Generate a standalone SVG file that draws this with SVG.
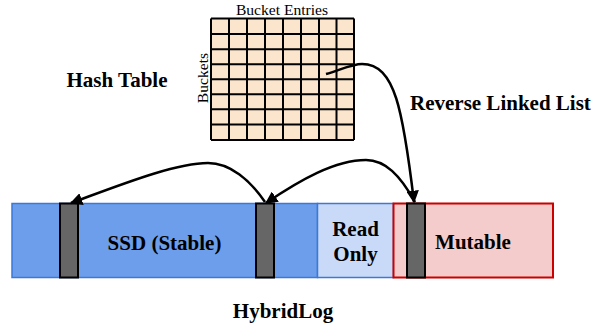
<svg xmlns="http://www.w3.org/2000/svg" width="595" height="323" viewBox="0 0 595 323">
<style>
.lbl{font-family:"Liberation Serif","Times New Roman",serif;font-weight:bold;font-size:21px;fill:#000}
.sm{font-family:"Liberation Serif","Times New Roman",serif;font-size:15.6px;fill:#000}
.slot{fill:#666666;stroke:#000;stroke-width:2}
.grid{stroke:#000;stroke-width:2;fill:none}
.conn{fill:none;stroke:#000;stroke-width:2.5}
</style>
<defs>
<marker id="ah" viewBox="0 0 10 10" refX="9" refY="5" markerWidth="5" markerHeight="5" orient="auto" markerUnits="strokeWidth">
<path d="M0,0 L10,5 L0,10 z" fill="#000"/>
</marker>
</defs>
<rect width="595" height="323" fill="#fff"/>
<g id="hash-table-label"><text class="lbl" x="66.5" y="86.5">Hash Table</text></g>
<g id="hash-table">
<rect x="211" y="18.5" width="143" height="121.5" fill="#fce5cd"/>
<path class="grid" d="M211,18.5V140M229,18.5V140M247,18.5V140M265,18.5V140M283,18.5V140M301,18.5V140M319,18.5V140M336.5,18.5V140M354,18.5V140M211,18.5H354M211,34H354M211,49.3H354M211,64.3H354M211,79.3H354M211,94.3H354M211,109.3H354M211,124.5H354M211,140H354"/>
<text class="sm" x="282" y="15" text-anchor="middle">Bucket Entries</text>
<text class="sm" transform="translate(207.5,78) rotate(-90)" text-anchor="middle">Buckets</text>
</g>
<g id="reverse-linked-list-label"><text class="lbl" x="410" y="110">Reverse Linked List</text></g>
<g id="hybridlog">
<rect id="ssd" x="12" y="203.5" width="305.5" height="74" fill="#6d9eeb" stroke="#3c78d8" stroke-width="1.5"/>
<rect id="read-only" x="317.5" y="203.5" width="76" height="74" fill="#c9daf8" stroke="#3c78d8" stroke-width="1.5"/>
<rect id="mutable" x="393.5" y="203.5" width="159.5" height="74" fill="#f4cccc" stroke="#cc0000" stroke-width="2"/>
<rect class="slot" x="60" y="203.5" width="18" height="74"/>
<rect class="slot" x="256" y="203.5" width="18" height="74"/>
<rect class="slot" x="407" y="203.5" width="18" height="74"/>
<text class="lbl" x="164.5" y="249.5" text-anchor="middle">SSD (Stable)</text>
<text class="lbl" x="355.5" y="236" text-anchor="middle">Read</text>
<text class="lbl" x="355.5" y="261" text-anchor="middle">Only</text>
<text class="lbl" x="473" y="248.5" text-anchor="middle">Mutable</text>
</g>
<g id="hybridlog-label"><text class="lbl" x="283" y="317.5" text-anchor="middle">HybridLog</text></g>
<g id="connectors">
<path class="conn" marker-end="url(#ah)" d="M326,74 C340,70 352,64 362,64 C395,64 403,110 414,202"/>
<path class="conn" marker-end="url(#ah)" d="M415,202 C400,175 385,160 366,160 C335,160 300,180 266,203"/>
<path class="conn" marker-end="url(#ah)" d="M265,202 C250,180 230,163 208,163 C175,163 120,185 71,203"/>
</g>
</svg>
